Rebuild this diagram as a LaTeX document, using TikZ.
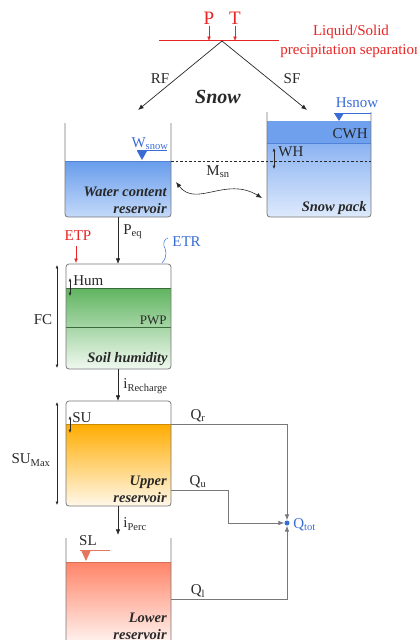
\documentclass[tikz,border=0pt]{standalone}
\usepackage{fontspec}
\setmainfont{Liberation Serif}
\usetikzlibrary{arrows.meta}

\definecolor{txt}{RGB}{40,40,40}
\definecolor{tankgray}{RGB}{120,120,120}
\definecolor{pred}{RGB}{232,36,36}
\definecolor{lblue}{RGB}{58,108,214}
\definecolor{wline}{RGB}{80,130,215}
\definecolor{wtop}{RGB}{104,156,236}
\definecolor{wbot}{RGB}{196,218,249}
\definecolor{stop}{RGB}{110,160,238}
\definecolor{sbot}{RGB}{222,234,252}
\definecolor{gtop}{RGB}{96,180,96}
\definecolor{gbot}{RGB}{240,249,240}
\definecolor{otop}{RGB}{255,172,0}
\definecolor{obot}{RGB}{255,248,234}
\definecolor{rtop}{RGB}{255,132,104}
\definecolor{rbot}{RGB}{255,250,248}

\begin{document}
\begin{tikzpicture}[x=1pt,y=-1pt,line width=0.7pt,>={Latex[length=2mm,width=1.6mm]},
  lbl/.style={font=\fontsize{15}{17}\selectfont,text=txt,inner sep=1pt},
  tankname/.style={font=\fontsize{14.5}{17}\selectfont\bfseries\itshape,text=txt,anchor=east,align=right,inner sep=0pt},
  tank/.style={draw=tankgray,line width=0.8pt,rounded corners=3pt},
  flow/.style={->,draw=txt},
  tiny/.style={<->,>={Latex[length=1.2mm,width=1mm]},line width=0.5pt,draw=txt}]
  \useasboundingbox (0,0) rectangle (416,640);

  % precipitation split
  \node[lbl,text=pred,font=\fontsize{19}{21}\selectfont] (P) at (209,18) {P};
  \node[lbl,text=pred,font=\fontsize{19}{21}\selectfont] (T) at (235,18) {T};
  \coordinate (sepL) at (159,40.5);
  \coordinate (sepR) at (279,40.5);
  \coordinate (apex) at (222,41);
  \draw[color=pred,line width=0.8pt] (sepL) -- (sepR);
  \draw[pred,->,>={Latex[length=1.5mm,width=1.2mm]},line width=0.5pt] (P) -- (P |- apex);
  \draw[pred,->,>={Latex[length=1.5mm,width=1.2mm]},line width=0.5pt] (T) -- (T |- apex);
  \node[lbl,text=pred,align=center,font=\fontsize{15}{19}\selectfont] (sep) at (351,41) {Liquid/Solid\\precipitation separation};
  \coordinate (rf) at (138,110);
  \coordinate (sf) at (307,110);
  \draw[flow] (apex) -- (rf);
  \draw[flow] (apex) -- (sf);
  \node[lbl] (RF) at (160,79) {RF};
  \node[lbl] (SF) at (292,79) {SF};
  \node[lbl,font=\fontsize{20}{22}\selectfont\bfseries\itshape] (snow) at (218,97) {Snow};

  % water content reservoir
  \begin{scope}
    \clip[rounded corners=3pt] (65,100) rectangle (171,217);
    \shade[top color=wtop,bottom color=wbot] (65,161) rectangle (171,217);
  \end{scope}
  \draw[wline,line width=0.6pt] (65,161) -- (171,161);
  \draw[tank] (65,123) -- (65,217) -- (171,217) -- (171,123);
  \draw[lblue,line width=0.6pt] (137,150) -- (167,150);
  \fill[lblue] (137,151) -- (147,151) -- (142,160) -- cycle;
  \node[lbl,text=lblue,anchor=south] (wsnow) at (150,151) {W\textsubscript{snow}};
  \node[tankname] (wcr) at (167,200) {Water content\\reservoir};

  % snow pack
  \begin{scope}
    \clip[rounded corners=3pt] (267,100) rectangle (371,217);
    \fill[stop] (267,121) rectangle (371,143);
    \shade[top color=stop!80!white,bottom color=sbot] (267,143) rectangle (371,217);
  \end{scope}
  \draw[wline,line width=0.6pt] (267,143) -- (371,143);
  \draw[tank] (267,112) -- (267,217) -- (371,217) -- (371,112);
  \draw[lblue,line width=0.6pt] (334,113) -- (371,113);
  \fill[lblue] (334,113) -- (344,113) -- (339,121) -- cycle;
  \node[lbl,text=lblue] (hsnow) at (357,103) {Hsnow};
  \node[lbl,anchor=east] (cwh) at (369,134) {CWH};
  \draw[tiny] (274,148) -- (274,169);
  \node[lbl,anchor=west] (wh) at (277,152) {WH};
  \node[tankname] (spk) at (367,208) {Snow pack};
  \draw[txt,line width=0.5pt,dash pattern=on 2.5pt off 2pt] (171,161) -- (371,161);
  \draw[<->,txt,line width=0.6pt] (176,182) .. controls (196,208) and (226,176) .. (262,198);
  \node[lbl] (msn) at (218,172) {M\textsubscript{sn}};

  % soil humidity
  \begin{scope}
    \clip[rounded corners=3pt] (66,264) rectangle (171,369);
    \shade[top color=gtop,middle color=gtop!75!white,bottom color=gbot] (66,288) rectangle (171,369);
  \end{scope}
  \draw[gtop!60!black,line width=0.5pt] (66,288) -- (171,288);
  \draw[gtop!60!black,line width=0.5pt] (66,327) -- (171,327);
  \draw[tank] (66,264) rectangle (171,369);
  \draw[flow] (118,217) -- (118,264);
  \node[lbl,anchor=west] (peq) at (122,232) {P\textsubscript{eq}};
  \draw[pred,->,>={Latex[length=1.5mm,width=1.2mm]},line width=0.5pt] (76,246) -- (76,263);
  \node[lbl,text=pred] (etp) at (78,236) {ETP};
  \draw[lblue,line width=0.5pt] (162,263) .. controls (168,256) and (166,250) .. (164,246) .. controls (163,242) and (165,239) .. (168,238);
  \node[lbl,text=lblue,anchor=west] (etr) at (171,242) {ETR};
  \draw[tiny] (57,265) -- (57,368);
  \node[lbl] (fc) at (43,320) {FC};
  \draw[tiny] (70,278) -- (70,296);
  \node[lbl,anchor=west] (hum) at (72,281) {Hum};
  \node[lbl,anchor=east,font=\fontsize{13}{15}\selectfont] (pwp) at (168,320) {PWP};
  \node[tankname] (soil) at (168,359) {Soil humidity};

  % upper reservoir
  \begin{scope}
    \clip[rounded corners=3pt] (66,401) rectangle (171,506);
    \shade[top color=otop,bottom color=obot] (66,424) rectangle (171,506);
  \end{scope}
  \draw[otop!80!black,line width=0.5pt] (66,424) -- (171,424);
  \draw[tank] (66,401) rectangle (171,506);
  \draw[flow] (118,369) -- (118,401);
  \node[lbl,anchor=west] (irech) at (122,386) {i\textsubscript{Recharge}};
  \draw[tiny] (57,402) -- (57,505);
  \node[lbl] (sumax) at (31,460) {SU\textsubscript{Max}};
  \draw[tiny] (70,416) -- (70,433);
  \node[lbl,anchor=west] (su) at (71,418) {SU};
  \node[tankname] (upr) at (167,489) {Upper\\reservoir};

  % lower reservoir
  \begin{scope}
    \clip[rounded corners=3pt] (66,520) rectangle (171,648);
    \shade[top color=rtop,bottom color=rbot] (66,562) rectangle (171,648);
  \end{scope}
  \draw[rtop!85!black,line width=0.5pt] (66,562) -- (171,562);
  \draw[tank] (66,538) -- (66,648) -- (171,648) -- (171,538);
  \draw[flow] (118,506) -- (118,535);
  \node[lbl,anchor=west] (iperc) at (122,524) {i\textsubscript{Perc}};
  \draw[rtop!90!black,line width=0.6pt] (80,550) -- (110,550);
  \fill[rtop!90!black] (81,550) -- (91,550) -- (86,561) -- cycle;
  \node[lbl] (sl) at (88,541) {SL};
  \node[tankname] (lwr) at (167,626) {Lower\\reservoir};

  % outflows
  \node[circle,fill=lblue,inner sep=0pt,minimum size=5pt] (qtot) at (287,523) {};
  \node[lbl,text=lblue,anchor=west] (qtotl) at (292,525) {Q\textsubscript{tot}};
  \coordinate (qr1) at (171,424);
  \coordinate (qr2) at (287,424);
  \coordinate (qu1) at (171,490);
  \coordinate (qu2) at (228,490);
  \coordinate (qu3) at (228,523);
  \coordinate (ql1) at (171,599);
  \coordinate (ql2) at (287,599);
  \draw[flow,draw=tankgray] (qr1) -- (qr2) -- (qtot);
  \draw[flow,draw=tankgray] (qu1) -- (qu2) -- (qu3) -- (qtot);
  \draw[flow,draw=tankgray] (ql1) -- (ql2) -- (qtot);
  \node[lbl] (qr) at (198,416) {Q\textsubscript{r}};
  \node[lbl] (qu) at (198,482) {Q\textsubscript{u}};
  \node[lbl] (ql) at (198,591) {Q\textsubscript{l}};
\end{tikzpicture}
\end{document}
